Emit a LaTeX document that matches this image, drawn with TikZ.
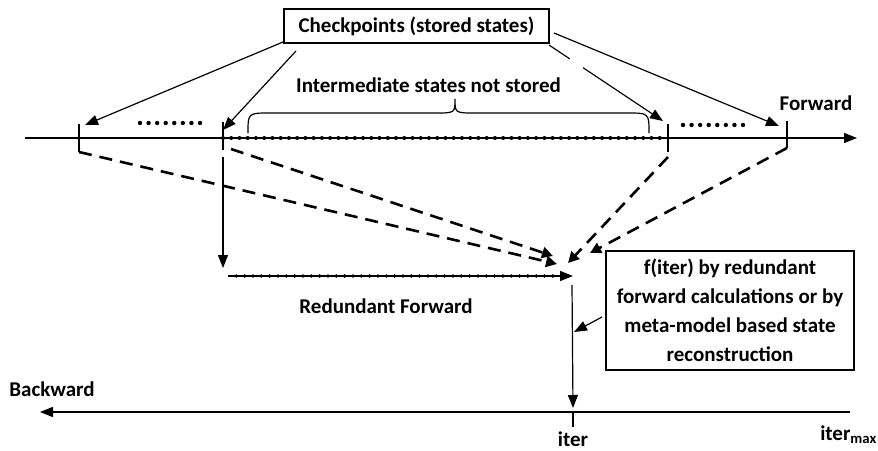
\documentclass[tikz,border=0pt]{standalone}
\usepackage{fontspec}
\setmainfont{Carlito}
\usetikzlibrary{arrows.meta}
\begin{document}
\begin{tikzpicture}[x=1pt,y=-1pt,
  every node/.style={font=\fontsize{21}{29}\selectfont\bfseries, inner sep=0pt},
  thin line/.style={line width=1.2pt},
  solid arrow/.style={thin line,-{Triangle[length=13pt,width=10pt]}},
  dash arrow/.style={line width=2.6pt,dash pattern=on 13pt off 8pt,-{Triangle[length=11pt,width=11pt]}},
  textbox/.style={draw,thin line,align=center}]
\useasboundingbox (0,0) rectangle (878,450);

% axes
\coordinate (fa0) at (25,138);
\coordinate (fa1) at (857,138);
\coordinate (ba0) at (850,412);
\coordinate (ba1) at (40,412);
\draw[solid arrow] (fa0) -- (fa1);
\draw[solid arrow] (ba0) -- (ba1);

% ticks on forward axis
\coordinate (t1a) at (79,124);  \coordinate (t1b) at (79,152);
\coordinate (t2a) at (223,122); \coordinate (t2b) at (223,150);
\coordinate (t3a) at (668,124); \coordinate (t3b) at (668,152);
\coordinate (t4a) at (787,121); \coordinate (t4b) at (787,148);
\draw[thin line] (t1a) -- (t1b);
\draw[thin line] (t2a) -- (t2b);
\draw[thin line] (t3a) -- (t3b);
\draw[thin line] (t4a) -- (t4b);
% tick on backward axis
\coordinate (bt0) at (573,412); \coordinate (bt1) at (573,427);
\draw[thin line] (bt0) -- (bt1);

% dotted segment (intermediate states)
\coordinate (d0) at (223,138); \coordinate (d1) at (668,138);
\foreach \i in {0,...,53} { \fill (223+\i*8.24,138) circle (2pt); }

% dots groups
\foreach \i in {0,...,7} {
  \fill (140+\i*8.57,123) circle (2.2pt);
  \fill (683+\i*8.57,125) circle (2.2pt);
}

% checkpoints box and arrows
\node[textbox, minimum width=265pt, minimum height=34pt] (cp) at (416.5,26) {Checkpoints (stored states)};
\coordinate (c1) at (283,42);
\coordinate (c2) at (296,51);
\coordinate (c3) at (549,45);
\coordinate (c4) at (554,33);
\coordinate (p1) at (85,125);
\coordinate (p2) at (223,130);
\coordinate (p3) at (663,121);
\coordinate (p4) at (779,126);
\draw[solid arrow] (c1) -- (p1);
\draw[solid arrow] (c2) -- (p2);
\draw[solid arrow, dash pattern=on 25pt off 16pt on 300pt] (c3) -- (p3);
\draw[solid arrow] (c4) -- (p4);

% intermediate label and brace
\node[anchor=base] (inter) at (428.5,92) {Intermediate states not stored};
\coordinate (br0) at (248,133);
\coordinate (brtip) at (455,99);
\coordinate (br1) at (649,133);
\draw[thin line] (br0) .. controls (248,113) .. (270,113) -- (435,113)
  .. controls (455,113) .. (brtip) .. controls (455,113) .. (475,113) -- (627,113)
  .. controls (649,113) .. (br1);

\node[anchor=base] (fwd) at (816,110) {Forward};
\node[anchor=base] (bwd) at (52,396) {Backward};

% dashed arrows to f(iter)
\coordinate (q1) at (557,264);
\coordinate (q2) at (553,256);
\coordinate (q3) at (568,263);
\coordinate (q4) at (590,253);
\coordinate (s2) at (231,149);
\coordinate (s3) at (668,157);
\draw[dash arrow] (t1b) -- (q1);
\draw[dash arrow] (s2) -- (q2);
\draw[dash arrow] (s3) -- (q3);
\draw[dash arrow] (t4b) -- (q4);

% redundant forward
\coordinate (v0) at (223,157);
\coordinate (v1) at (223,268);
\draw[solid arrow] (v0) -- (v1);
\coordinate (r0) at (228,276);
\coordinate (r1) at (573,276);
\foreach \i in {1,...,40} { \fill (228+\i*8.33,276) circle (1.9pt); }
\draw[solid arrow] (r0) -- (r1);
\node[anchor=base] (rf) at (386,313) {Redundant Forward};

% f(iter) box
\node[textbox, minimum width=248pt, minimum height=119pt] (fb) at (730,310.5) {f(iter) by redundant\\forward calculations or by\\meta-model based state\\reconstruction};

\coordinate (w0) at (572,285);
\coordinate (w1) at (573,408);
\draw[solid arrow] (w0) -- (w1);
\coordinate (a0) at (602,317);
\coordinate (a1) at (574,332);
\draw[solid arrow] (a0) -- (a1);

% labels on backward axis
\node[anchor=base] (it) at (573,446) {iter};
\node[anchor=base east] (itmax) at (877,440) {iter\textsubscript{max}};
\end{tikzpicture}
\end{document}
